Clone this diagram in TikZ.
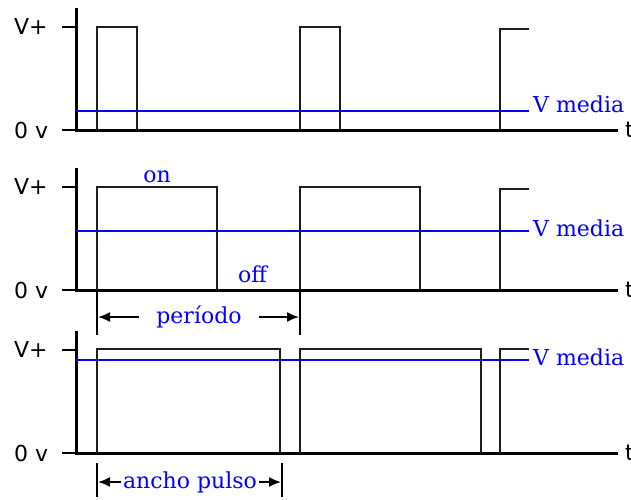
\documentclass[tikz,border=0pt]{standalone}
\usepackage{fontspec}
\setmainfont{DejaVu Serif}
\newfontfamily\axisfont{DejaVu Sans}
\usetikzlibrary{arrows.meta,positioning}

\definecolor{vblue}{RGB}{0,0,255}
\definecolor{pulsegray}{RGB}{30,30,30}

\tikzset{
  axisline/.style={line width=3pt},
  tickline/.style={line width=1.5pt},
  pulse/.style={line width=1.5pt, pulsegray},
  vmean/.style={line width=1.5pt, vblue},
  bluelabel/.style={text=vblue, inner sep=0pt, font=\fontsize{22}{26}\selectfont},
  levellabel/.style={inner sep=0pt, font=\axisfont\fontsize{22}{26}\selectfont},
  dimarrow/.style={line width=1.8pt, -{Latex[length=12pt,width=10pt]}},
}

\begin{document}
\begin{tikzpicture}[x=1pt, y=-1pt]
  \useasboundingbox (0,0) rectangle (631,499);

  % axes, levels and mean value of the three panels
  \foreach \b/\m/\l in {130/111/112, 290/231/236, 453/360/365} {
    \draw[axisline] (76,\b-122) -- (76,\b) -- (618,\b);
    \draw[tickline] (62,\b-103) -- (76,\b-103);
    \draw[tickline] (62,\b) -- (76,\b);
    \node[levellabel, anchor=west] (vplus\b) at (14,\b-104) {V+};
    \node[levellabel, anchor=west] (zero\b) at (14,\b) {0 v};
    \node[levellabel, anchor=base west] (t\b) at (625,\b+7) {t};
    \draw[vmean] (76,\m) -- (529,\m);
    \node[bluelabel, anchor=base west] (vmed\b) at (533,\l) {V media};
  }

  % pulses
  \draw[pulse] (97,130) |- (137,27) -- (137,130);
  \draw[pulse] (300,130) |- (340,27) -- (340,130);
  \draw[pulse] (500,130) |- (529,29);

  \draw[pulse] (97,290) |- (217,187) -- (217,290);
  \draw[pulse] (300,290) |- (420,187) -- (420,290);
  \draw[pulse] (500,290) |- (529,189);

  \draw[pulse] (97,453) |- (280,349) -- (280,453);
  \draw[pulse] (300,453) |- (481,349) -- (481,453);
  \draw[pulse] (500,453) |- (529,349);

  % on / off
  \node[bluelabel, anchor=base] (on) at (157,182) {on};
  \node[bluelabel, anchor=base west] (off) at (238,282) {off};

  % period
  \draw[tickline] (97,290) -- (97,335);
  \draw[tickline] (300,290) -- (300,335);
  \node[bluelabel, inner xsep=17pt] (periodo) at (199,317) {período};
  \coordinate (perL) at (98,317);
  \coordinate (perR) at (299,317);
  \draw[dimarrow] (periodo.west) -- (perL);
  \draw[dimarrow] (periodo.east) -- (perR);

  % pulse width
  \draw[tickline] (97,463) -- (97,497);
  \draw[tickline] (282,463) -- (282,497);
  \node[bluelabel, inner xsep=2pt] (ancho) at (190,482) {ancho pulso};
  \coordinate (anL) at (98,482);
  \coordinate (anR) at (281,482);
  \draw[dimarrow] (ancho.west) -- (anL);
  \draw[dimarrow] (ancho.east) -- (anR);
\end{tikzpicture}
\end{document}
